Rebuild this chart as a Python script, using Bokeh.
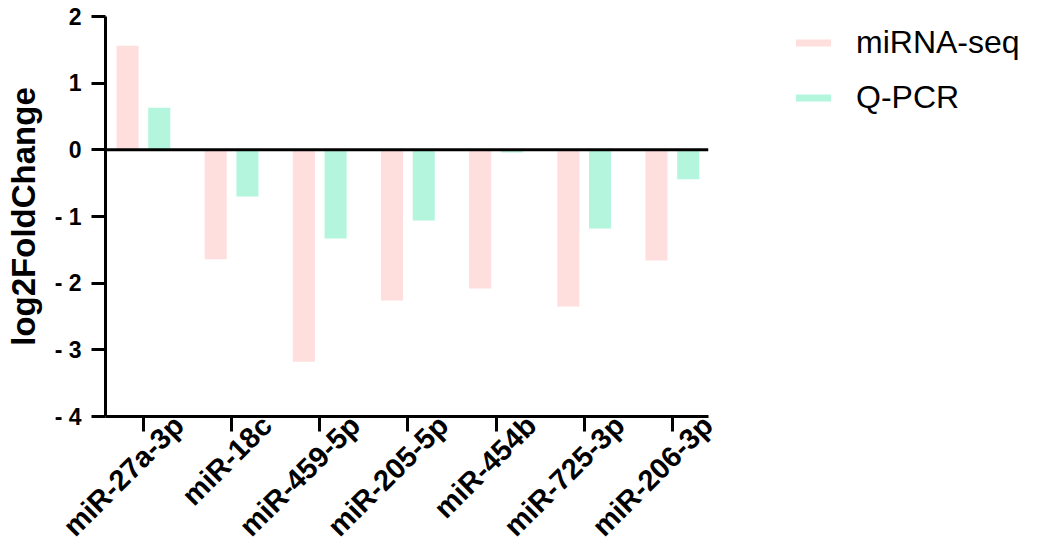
import math
from bokeh.plotting import figure
from bokeh.models import (ColumnDataSource, Range1d, FixedTicker, Span, Legend, LegendItem,
                          LinearAxis, CustomLabelingPolicy)
from bokeh.transform import dodge
from bokeh.embed import file_html
from bokeh.resources import INLINE

categories = ["miR-27a-3p", "miR-18c", "miR-459-5p", "miR-205-5p", "miR-454b", "miR-725-3p", "miR-206-3p"]
mirna_seq = [1.56, -1.64, -3.18, -2.26, -2.08, -2.35, -1.66]
qpcr = [0.63, -0.70, -1.33, -1.06, -0.04, -1.18, -0.44]
y_ticks = [-4, -3, -2, -1, 0, 1, 2]
series_names = ["miRNA-seq", "Q-PCR"]
colors = ["#FFDEDE", "#B3F5DD"]

idx = list(range(len(categories)))
x_lo, x_hi = -0.43, 6.41
label_shift = 0.40  # labels sit to the right of their ticks, as in the reference
src = ColumnDataSource(dict(idx=idx, seq=mirna_seq, pcr=qpcr))

p = figure(frame_width=603, frame_height=400, output_backend="svg", toolbar_location=None,
           x_range=Range1d(x_lo, x_hi), y_range=Range1d(-4, 2),
           min_border_left=105, min_border_right=336, min_border_top=16, min_border_bottom=130)
p.extra_x_ranges = {"labels": Range1d(x_lo - label_shift, x_hi - label_shift)}
p.outline_line_color = None
p.grid.visible = False
p.background_fill_color = "white"

r1 = p.vbar(x=dodge("idx", -0.18, range=p.x_range), top="seq", bottom=0, width=0.25,
            source=src, fill_color=colors[0], line_color=None)
r2 = p.vbar(x=dodge("idx", 0.18, range=p.x_range), top="pcr", bottom=0, width=0.25,
            source=src, fill_color=colors[1], line_color=None)

zero = Span(location=0, dimension="width", line_color="black", line_width=3)
p.add_layout(zero)

# y axis
ya = p.yaxis[0]
ya.ticker = FixedTicker(ticks=y_ticks)
ya.major_label_overrides = {t: (f"- {abs(t)}" if t < 0 else str(t)) for t in y_ticks}
ya.axis_label = "log2FoldChange"
ya.axis_label_text_font = "Liberation Sans"
ya.axis_label_text_font_style = "bold"
ya.axis_label_text_font_size = "33px"
ya.axis_label_text_color = "black"
ya.axis_label_standoff = 10
ya.major_label_text_font = "Liberation Sans"
ya.major_label_text_font_style = "bold"
ya.major_label_text_font_size = "23px"
ya.major_label_text_color = "black"
ya.major_label_standoff = 10
ya.axis_line_width = 3
ya.major_tick_line_width = 3
ya.major_tick_out = 14
ya.major_tick_in = 0
ya.minor_tick_line_color = None

# x axis: ticks only (labels drawn by the axis below)
xa = p.xaxis[0]
xa.ticker = FixedTicker(ticks=idx)
xa.major_label_policy = CustomLabelingPolicy(code="return []")
xa.major_label_standoff = 0
xa.axis_line_width = 3
xa.major_tick_line_width = 3
xa.major_tick_out = 15
xa.major_tick_in = 0
xa.minor_tick_line_color = None

# x labels axis (labels only, offset right of ticks)
xl = LinearAxis(x_range_name="labels", ticker=FixedTicker(ticks=idx))
xl.major_label_overrides = {i: c for i, c in zip(idx, categories)}
xl.major_label_orientation = math.pi / 4
xl.major_label_text_font = "Liberation Sans"
xl.major_label_text_font_style = "bold"
xl.major_label_text_font_size = "29px"
xl.major_label_text_color = "black"
xl.major_label_standoff = -22
xl.axis_line_color = None
xl.major_tick_line_color = None
xl.major_tick_out = 0
xl.major_tick_in = 0
xl.minor_tick_line_color = None
p.add_layout(xl, "below")

legend = Legend(items=[LegendItem(label=series_names[0], renderers=[r1]),
                       LegendItem(label=series_names[1], renderers=[r2])],
                location=(83, 300))
legend.border_line_color = None
legend.background_fill_alpha = 0
legend.padding = 0
legend.margin = 0
legend.glyph_width = 44
legend.glyph_height = 9
legend.label_height = 36
legend.spacing = 18
legend.label_standoff = 21
legend.label_text_font = "Liberation Sans"
legend.label_text_font_size = "32px"
legend.label_text_color = "black"
legend.label_text_baseline = "middle"
p.add_layout(legend, "right")

open("out.html", "w").write(file_html(p, INLINE))
